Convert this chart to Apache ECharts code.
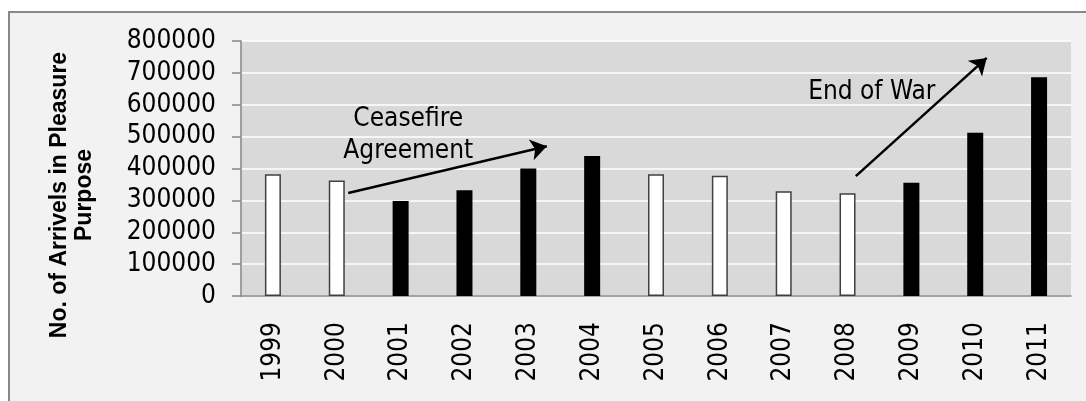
<!DOCTYPE html>
<html>
<head>
<meta charset="utf-8">
<script src="https://cdn.jsdelivr.net/npm/echarts@6/dist/echarts.min.js"></script>
<style>
  html, body { margin: 0; padding: 0; background: #ffffff; overflow: hidden; }
  #frame { position: absolute; left: 8px; top: 11px; width: 1120px; height: 440px;
           border: 2px solid #888888; background: #f2f2f2; }
  #chart { position: absolute; left: 0; top: 0; width: 1086px; height: 401px; }
</style>
</head>
<body>
<div id="frame"></div>
<div id="chart"></div>
<script>
// ---- data ----
const years = ['1999','2000','2001','2002','2003','2004','2005','2006','2007','2008','2009','2010','2011'];
const arrivals = [382000, 362000, 298000, 332000, 400000, 439000, 382000, 377000, 329000, 322000, 355000, 512000, 686000];
const darkBar = [false, false, true, true, true, true, false, false, false, false, true, true, true];
const yTicks = { min: 0, max: 800000, step: 100000 };
const yTitle = 'No. of Arrivels in Pleasure\nPurpose';
// annotation anchors in data space: [category position, value]
const arrowCeasefire = [[1.18, 323000], [4.29, 470000]];
const arrowEndOfWar = [[9.13, 376000], [11.18, 747000]];
const noteCeasefire = { text: 'Ceasefire\nAgreement', at: [2.12, 505000] };
const noteEndOfWar = { text: 'End of War', at: [9.38, 640000] };

const FONT = "'DejaVu Sans Condensed', 'DejaVu Sans', sans-serif";

const chart = echarts.init(document.getElementById('chart'), null, { renderer: 'canvas' });

const barData = arrivals.map((v, i) => ({
  value: v,
  itemStyle: darkBar[i]
    ? { color: '#000000', borderColor: '#000000', borderWidth: 0 }
    : { color: '#ffffff', borderColor: '#404040', borderWidth: 1.5 }
}));

const option = {
  backgroundColor: 'transparent',
  animation: false,
  grid: {
    left: 241, top: 41, right: 15, bottom: 105,
    show: true, backgroundColor: '#d9d9d9', borderWidth: 0,
    containLabel: false, outerBoundsMode: 'none'
  },
  xAxis: [{
    type: 'category',
    data: years,
    axisLine: { show: true, onZero: false, lineStyle: { color: '#868686', width: 1.5 } },
    axisTick: { show: false },
    axisLabel: { rotate: 90, margin: 26, fontSize: 26, fontFamily: FONT, color: '#000' },
    splitLine: { show: false }
  }, {
    type: 'value', min: -0.5, max: 12.5, show: false,
    axisLine: { show: false, onZero: false }, splitLine: { show: false }
  }],
  yAxis: {
    type: 'value',
    min: yTicks.min, max: yTicks.max, interval: yTicks.step,
    axisLine: { show: true, onZero: false, lineStyle: { color: '#868686', width: 1.5 } },
    axisTick: { show: true, length: 9, lineStyle: { color: '#868686', width: 1.5 } },
    axisLabel: { margin: 25, fontSize: 26, fontFamily: FONT, color: '#000',
                 formatter: v => String(v) },
    splitLine: { show: true, lineStyle: { color: '#ffffff', width: 1.5 } }
  },
  graphic: [{
    type: 'text',
    x: 72, y: 195,
    rotation: Math.PI / 2,
    style: {
      text: yTitle,
      font: "bold 23px 'Liberation Sans', Arial, sans-serif",
      fill: '#000',
      align: 'center',
      verticalAlign: 'middle',
      lineHeight: 25
    }
  }],
  series: [{
    type: 'bar',
    data: barData,
    barWidth: 16,
    xAxisIndex: 0
  }, {
    type: 'scatter',
    xAxisIndex: 1,
    data: [],
    silent: true,
    markLine: {
      silent: true,
      symbol: ['none', 'arrow'],
      symbolSize: 16,
      lineStyle: { color: '#000', width: 2.5, type: 'solid' },
      label: { show: false },
      data: [
        [{ coord: arrowCeasefire[0] }, { coord: arrowCeasefire[1] }],
        [{ coord: arrowEndOfWar[0] }, { coord: arrowEndOfWar[1] }]
      ]
    },
    markPoint: {
      silent: true,
      symbol: 'circle',
      symbolSize: 0,
      itemStyle: { color: 'transparent' },
      label: {
        show: true, position: 'inside', fontSize: 26, fontFamily: FONT,
        color: '#000', lineHeight: 32, align: 'center', verticalAlign: 'middle',
        formatter: p => p.name
      },
      data: [
        { name: noteCeasefire.text, coord: noteCeasefire.at },
        { name: noteEndOfWar.text, coord: noteEndOfWar.at }
      ]
    }
  }]
};
chart.setOption(option);
</script>
</body>
</html>
